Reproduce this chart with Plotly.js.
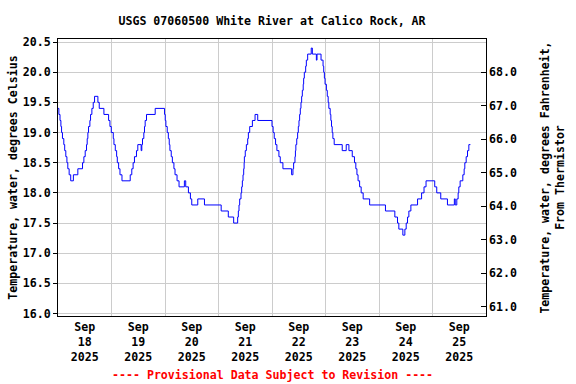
<!DOCTYPE html>
<html>
<head>
<meta charset="utf-8">
<script src="https://cdn.plot.ly/plotly-3.0.1.min.js"></script>
<style>html,body{margin:0;padding:0;background:#fff;}#chart{width:576px;height:384px;}</style>
</head>
<body>
<div id="chart"></div>
<script>
// Change points of the 15-minute record (time, water temperature in deg C)
const times = [
"2025-09-18 00:00","2025-09-18 00:24","2025-09-18 00:54","2025-09-18 01:18","2025-09-18 01:36","2025-09-18 02:00",
"2025-09-18 02:36","2025-09-18 03:00","2025-09-18 03:30","2025-09-18 04:00","2025-09-18 04:24","2025-09-18 05:00",
"2025-09-18 05:42","2025-09-18 06:54","2025-09-18 08:54","2025-09-18 11:00","2025-09-18 11:36","2025-09-18 12:12",
"2025-09-18 12:48","2025-09-18 13:06","2025-09-18 13:24","2025-09-18 13:42","2025-09-18 14:18","2025-09-18 14:36",
"2025-09-18 15:12","2025-09-18 15:48","2025-09-18 16:24","2025-09-18 17:54","2025-09-18 18:30","2025-09-18 20:36",
"2025-09-18 22:42","2025-09-18 23:18","2025-09-18 23:54",
"2025-09-19 00:48","2025-09-19 01:06","2025-09-19 01:42","2025-09-19 02:18","2025-09-19 02:36","2025-09-19 03:12",
"2025-09-19 03:48","2025-09-19 04:42","2025-09-19 08:24","2025-09-19 09:06","2025-09-19 09:42","2025-09-19 10:18",
"2025-09-19 11:12","2025-09-19 11:48","2025-09-19 13:18","2025-09-19 13:36","2025-09-19 13:54","2025-09-19 14:30",
"2025-09-19 14:48","2025-09-19 15:06","2025-09-19 15:42","2025-09-19 19:36","2025-09-19 23:48",
"2025-09-20 00:06","2025-09-20 00:24","2025-09-20 01:00","2025-09-20 01:30","2025-09-20 01:54","2025-09-20 02:12",
"2025-09-20 02:48","2025-09-20 03:18","2025-09-20 04:00","2025-09-20 04:30","2025-09-20 05:24","2025-09-20 06:18",
"2025-09-20 08:42","2025-09-20 09:18","2025-09-20 10:30","2025-09-20 11:24","2025-09-20 12:00","2025-09-20 14:42",
"2025-09-20 17:42",
"2025-09-21 01:12","2025-09-21 04:24","2025-09-21 06:48","2025-09-21 08:36","2025-09-21 08:54","2025-09-21 09:12",
"2025-09-21 09:30","2025-09-21 10:06","2025-09-21 10:24","2025-09-21 10:42","2025-09-21 11:00","2025-09-21 11:18",
"2025-09-21 11:30","2025-09-21 11:36","2025-09-21 12:00","2025-09-21 12:30","2025-09-21 13:06","2025-09-21 13:24",
"2025-09-21 14:00","2025-09-21 15:12","2025-09-21 16:24","2025-09-21 17:36",
"2025-09-22 00:00","2025-09-22 00:30","2025-09-22 01:00","2025-09-22 01:36","2025-09-22 02:12","2025-09-22 03:06",
"2025-09-22 03:42","2025-09-22 04:54","2025-09-22 08:48","2025-09-22 09:24","2025-09-22 09:42","2025-09-22 10:18",
"2025-09-22 10:30","2025-09-22 10:42","2025-09-22 11:06","2025-09-22 11:30","2025-09-22 11:48","2025-09-22 12:06",
"2025-09-22 12:24","2025-09-22 12:42","2025-09-22 13:00","2025-09-22 13:18","2025-09-22 13:36","2025-09-22 14:00",
"2025-09-22 14:12","2025-09-22 14:30","2025-09-22 15:06","2025-09-22 15:24","2025-09-22 16:00","2025-09-22 17:36",
"2025-09-22 18:06","2025-09-22 19:54","2025-09-22 20:12","2025-09-22 22:00","2025-09-22 22:54","2025-09-22 23:12",
"2025-09-22 23:30","2025-09-22 23:48",
"2025-09-23 00:24","2025-09-23 00:48","2025-09-23 01:12","2025-09-23 01:30","2025-09-23 02:06","2025-09-23 02:24",
"2025-09-23 02:42","2025-09-23 03:00","2025-09-23 03:18","2025-09-23 03:54","2025-09-23 07:30","2025-09-23 09:18",
"2025-09-23 10:30","2025-09-23 12:00","2025-09-23 13:00","2025-09-23 13:36","2025-09-23 14:06","2025-09-23 14:36",
"2025-09-23 15:18","2025-09-23 16:00","2025-09-23 16:54","2025-09-23 19:48",
"2025-09-24 02:54","2025-09-24 07:06","2025-09-24 08:18","2025-09-24 08:54","2025-09-24 10:42","2025-09-24 11:36",
"2025-09-24 12:12","2025-09-24 12:48","2025-09-24 13:24","2025-09-24 14:18","2025-09-24 17:18","2025-09-24 19:06",
"2025-09-24 20:12","2025-09-24 21:06",
"2025-09-25 01:00","2025-09-25 01:54","2025-09-25 03:42","2025-09-25 06:42","2025-09-25 09:48","2025-09-25 10:12",
"2025-09-25 10:54","2025-09-25 11:30","2025-09-25 11:48","2025-09-25 12:24","2025-09-25 13:36","2025-09-25 14:12",
"2025-09-25 14:30","2025-09-25 15:06","2025-09-25 15:42","2025-09-25 16:18","2025-09-25 17:00"
];
const tempC = [
19.4,19.3,19.2,19.1,19.0,18.9,
18.8,18.7,18.6,18.5,18.4,18.3,
18.2,18.3,18.4,18.5,18.6,18.7,
18.8,18.9,19.0,19.1,19.2,19.3,
19.4,19.5,19.6,19.5,19.4,19.3,
19.2,19.1,19.0,
18.9,18.8,18.7,18.6,18.5,18.4,
18.3,18.2,18.3,18.4,18.5,18.6,
18.7,18.8,18.7,18.8,18.9,19.0,
19.1,19.2,19.3,19.4,19.3,
19.2,19.1,19.0,18.9,18.8,18.7,
18.6,18.5,18.4,18.3,18.2,18.1,
18.2,18.1,18.0,17.9,17.8,17.9,
17.8,
17.7,17.6,17.5,17.6,17.7,17.8,
17.9,18.0,18.1,18.2,18.3,18.4,
18.5,18.6,18.7,18.8,18.9,19.0,
19.1,19.2,19.3,19.2,
19.1,19.0,18.9,18.8,18.7,18.6,
18.5,18.4,18.3,18.4,18.5,18.6,
18.7,18.8,18.9,19.0,19.1,19.2,
19.3,19.4,19.5,19.6,19.7,19.8,
19.9,20.0,20.1,20.2,20.3,20.4,
20.3,20.2,20.3,20.2,20.1,20.0,
19.9,19.8,
19.7,19.6,19.5,19.4,19.3,19.2,
19.1,19.0,18.9,18.8,18.7,18.8,
18.7,18.6,18.5,18.4,18.3,18.2,
18.1,18.0,17.9,17.8,
17.7,17.6,17.5,17.4,17.3,17.4,
17.5,17.6,17.7,17.8,17.9,18.0,
18.1,18.2,
18.1,18.0,17.9,17.8,17.9,17.8,
17.9,18.0,18.1,18.2,18.3,18.4,
18.5,18.6,18.7,18.8,18.8
];
const ticksC = [16.0,16.5,17.0,17.5,18.0,18.5,19.0,19.5,20.0,20.5];
const ticksF = [61,62,63,64,65,66,67,68];
const rangeC = [15.96, 20.55];
const xRange = ["2025-09-18 00:00","2025-09-26 00:00"];
const titleText = "USGS 07060500 White River at Calico Rock, AR";
const yTitleLeft = "Temperature, water, degrees Celsius";
const yTitleRight = "Temperature, water, degrees Fahrenheit,<br>From Thermistor";
const noteText = "---- Provisional Data Subject to Revision ----";

const fontFam = "DejaVu Sans Mono, monospace";
const baseFont = {family: fontFam, size: 11.6, color: "black", weight: "bold"};
const toF = c => c * 1.8 + 32;

const traces = [
  {x: times, y: tempC, type: "scatter", mode: "lines", line: {color: "#0000ff", width: 1, shape: "hv"},
   hoverinfo: "x+y", showlegend: false},
  {x: times, y: tempC.map(toF), type: "scatter", mode: "lines", yaxis: "y2", line: {color: "rgba(0,0,0,0)", width: 0, shape: "hv"},
   hoverinfo: "skip", showlegend: false}
];

const layout = {
  width: 576, height: 384,
  margin: {l: 58, r: 90, t: 39, b: 68, pad: 0},
  paper_bgcolor: "white", plot_bgcolor: "white",
  font: baseFont,
  showlegend: false,
  title: {text: titleText, x: 0.5, xref: "paper", xanchor: "center", y: 1 - 21/384, yref: "container", yanchor: "middle", font: baseFont},
  xaxis: {type: "date", range: xRange, tick0: "2025-09-18", dtick: 86400000, ticklabelmode: "period",
          tickformat: "%b<br>%d<br>%Y", showgrid: true, gridcolor: "#cccccc", gridwidth: 1, ticks: "",
          showline: true, mirror: true, linecolor: "black", linewidth: 1, zeroline: false, tickfont: baseFont},
  yaxis: {range: rangeC, tickvals: ticksC, tickformat: ".1f", ticks: "outside", ticklen: 4, tickcolor: "black",
          showgrid: true, gridcolor: "#cccccc", gridwidth: 1, showline: true, mirror: true, linecolor: "black", linewidth: 1,
          zeroline: false, tickfont: baseFont, title: {text: yTitleLeft, font: baseFont, standoff: 2}},
  yaxis2: {overlaying: "y", side: "right", range: rangeC.map(toF), tickvals: ticksF, tickformat: ".1f",
           ticks: "inside", ticklen: 5, tickcolor: "black", showgrid: false, zeroline: false, showline: false,
           ticklabelstandoff: 2,
           tickfont: baseFont, title: {text: yTitleRight, font: baseFont, standoff: 24}},
  annotations: [{text: noteText, xref: "paper", yref: "paper", x: 0.5, y: (316 - 375) / 277, xanchor: "center", yanchor: "middle",
                 showarrow: false, font: {family: fontFam, size: 11.6, color: "#ff0000", weight: "bold"}}]
};

Plotly.newPlot("chart", traces, layout, {staticPlot: true, displayModeBar: false});
</script>
</body>
</html>
